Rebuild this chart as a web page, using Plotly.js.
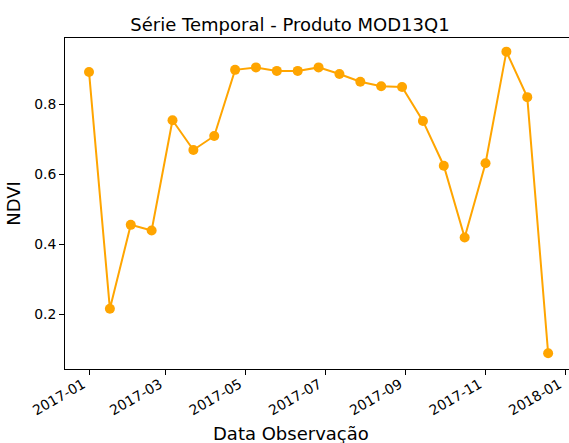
<!DOCTYPE html>
<html>
<head>
<meta charset="utf-8">
<script src="https://cdn.plot.ly/plotly-3.0.1.min.js"></script>
<style>html,body{margin:0;padding:0;background:#fff;}</style>
</head>
<body>
<div id="chart" style="width:569px;height:443px;"></div>
<script>
const dates = ["2017-01-01","2017-01-17","2017-02-02","2017-02-18","2017-03-06","2017-03-22",
  "2017-04-07","2017-04-23","2017-05-09","2017-05-25","2017-06-10","2017-06-26",
  "2017-07-12","2017-07-28","2017-08-13","2017-08-29","2017-09-14","2017-09-30",
  "2017-10-16","2017-11-01","2017-11-17","2017-12-03","2017-12-19"];
const ndvi = [0.892,0.215,0.455,0.439,0.754,0.669,0.709,0.898,0.905,0.895,0.895,0.905,
  0.886,0.864,0.851,0.849,0.752,0.624,0.419,0.631,0.950,0.820,0.088];
const chartTitle = "Série Temporal - Produto MOD13Q1";
const xLabel = "Data Observação";
const yLabel = "NDVI";
const yTicks = [0.2,0.4,0.6,0.8];

const font = "DejaVu Sans, sans-serif";
const trace = {
  x: dates, y: ndvi, type: "scatter", mode: "lines+markers",
  line: {color: "#FFA500", width: 2},
  marker: {color: "#FFA500", size: 10},
  hoverinfo: "skip"
};
const layout = {
  width: 569, height: 443,
  margin: {l: 65, r: 0, t: 38, b: 74},
  paper_bgcolor: "#fff", plot_bgcolor: "#fff",
  showlegend: false,
  font: {family: font, color: "#000"},
  title: {text: chartTitle, font: {family: font, size: 18, color: "#000"},
    x: 290/569, xref: "container", xanchor: "center",
    y: 1 - 31/443, yref: "container", yanchor: "bottom"},
  xaxis: {
    type: "date",
    range: ["2016-12-13 14:00", "2018-01-04 00:00"],
    tick0: "2017-01-01", dtick: "M2", tickformat: "%Y-%m",
    tickangle: -30, ticks: "outside", ticklen: 5, tickwidth: 1, tickcolor: "#000",
    ticklabeloverflow: "allow", ticklabelstandoff: -4, ticklabelshift: -6,
    tickfont: {family: font, size: 13.9, color: "#000"},
    showgrid: false, zeroline: false,
    showline: true, linecolor: "#000", linewidth: 1, mirror: true
  },
  yaxis: {
    range: [0.043, 0.989],
    tickvals: yTicks, ticktext: yTicks.map(v => v.toFixed(1)),
    ticks: "outside", ticklen: 5, tickwidth: 1, tickcolor: "#000",
    tickfont: {family: font, size: 13.9, color: "#000"},
    showgrid: false, zeroline: false,
    showline: true, linecolor: "#000", linewidth: 1, mirror: false,
    title: {text: yLabel, font: {family: font, size: 18, color: "#000"}, standoff: 8}
  },
  annotations: [{
    text: xLabel, xref: "paper", yref: "paper",
    x: (291-65)/504, y: 0, yshift: -52, xanchor: "center", yanchor: "top",
    showarrow: false, font: {family: font, size: 18, color: "#000"}
  }]
};
Plotly.newPlot("chart", [trace], layout, {displayModeBar: false, staticPlot: true});
</script>
</body>
</html>
